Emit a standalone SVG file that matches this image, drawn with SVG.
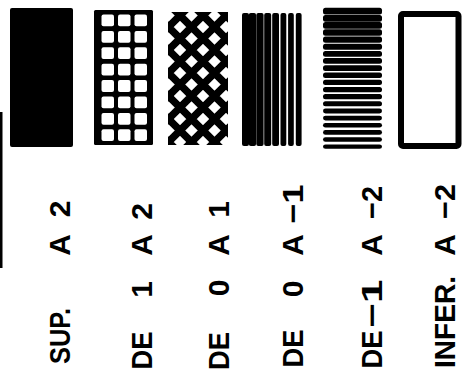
<svg xmlns="http://www.w3.org/2000/svg" width="462" height="373" viewBox="0 0 462 373">
<style>
.lbl{font-family:"Liberation Sans",Arial,sans-serif;font-weight:bold;font-size:30px;fill:#000;text-anchor:middle}
.ink{fill:#000}
.hole{fill:#fff}
</style>
<defs>
<clipPath id="cross-clip"><rect x="168" y="12" width="60" height="133"/></clipPath>
</defs>
<rect width="462" height="373" fill="#fff"/>
<g id="frame-edge"><rect x="0" y="112" width="2.5" height="156" class="ink"/></g>

<g id="sup-a-2">
<rect x="10" y="8" width="63" height="139" rx="2" class="ink"/>
<text class="lbl" transform="translate(70,336) rotate(-90)" textLength="56" lengthAdjust="spacingAndGlyphs">SUP.</text>
<text class="lbl" transform="translate(70,245) rotate(-90)">A</text>
<text class="lbl" transform="translate(70,209) rotate(-90)">2</text>
</g>

<g id="de-1-a-2">
<rect x="94" y="10" width="59" height="135" rx="1.5" class="ink"/>
<g class="hole">
<rect x="101.5" y="14.5" width="12.5" height="11.8" rx="2"/><rect x="118" y="14.5" width="12.5" height="11.8" rx="2"/><rect x="134.5" y="14.5" width="12.5" height="11.8" rx="2"/>
<rect x="101.5" y="30.9" width="12.5" height="11.8" rx="2"/><rect x="118" y="30.9" width="12.5" height="11.8" rx="2"/><rect x="134.5" y="30.9" width="12.5" height="11.8" rx="2"/>
<rect x="101.5" y="47.3" width="12.5" height="11.8" rx="2"/><rect x="118" y="47.3" width="12.5" height="11.8" rx="2"/><rect x="134.5" y="47.3" width="12.5" height="11.8" rx="2"/>
<rect x="101.5" y="63.7" width="12.5" height="11.8" rx="2"/><rect x="118" y="63.7" width="12.5" height="11.8" rx="2"/><rect x="134.5" y="63.7" width="12.5" height="11.8" rx="2"/>
<rect x="101.5" y="80.1" width="12.5" height="11.8" rx="2"/><rect x="118" y="80.1" width="12.5" height="11.8" rx="2"/><rect x="134.5" y="80.1" width="12.5" height="11.8" rx="2"/>
<rect x="101.5" y="96.5" width="12.5" height="11.8" rx="2"/><rect x="118" y="96.5" width="12.5" height="11.8" rx="2"/><rect x="134.5" y="96.5" width="12.5" height="11.8" rx="2"/>
<rect x="101.5" y="112.9" width="12.5" height="11.8" rx="2"/><rect x="118" y="112.9" width="12.5" height="11.8" rx="2"/><rect x="134.5" y="112.9" width="12.5" height="11.8" rx="2"/>
<rect x="101.5" y="129.3" width="12.5" height="11.8" rx="2"/><rect x="118" y="129.3" width="12.5" height="11.8" rx="2"/><rect x="134.5" y="129.3" width="12.5" height="11.8" rx="2"/>
</g>
<text class="lbl" transform="translate(152,350.5) rotate(-90)" textLength="38" lengthAdjust="spacingAndGlyphs">DE</text>
<text class="lbl" transform="translate(152,289.5) rotate(-90)">1</text>
<text class="lbl" transform="translate(152,245) rotate(-90)">A</text>
<text class="lbl" transform="translate(152,211.5) rotate(-90)">2</text>
</g>

<g id="de-0-a-1">
<path clip-path="url(#cross-clip)" fill="none" stroke="#000" stroke-width="7.5" d="M172.5 0L12.5 160M195.5 0L35.5 160M218.5 0L58.5 160M241.5 0L81.5 160M264.5 0L104.5 160M287.5 0L127.5 160M310.5 0L150.5 160M333.5 0L173.5 160M356.5 0L196.5 160M379.5 0L219.5 160M402.5 0L242.5 160M3.5 0L163.5 160M26.5 0L186.5 160M49.5 0L209.5 160M72.5 0L232.5 160M95.5 0L255.5 160M118.5 0L278.5 160M141.5 0L301.5 160M164.5 0L324.5 160M187.5 0L347.5 160M210.5 0L370.5 160M233.5 0L393.5 160"/>
<text class="lbl" transform="translate(229,351) rotate(-90)" textLength="38" lengthAdjust="spacingAndGlyphs">DE</text>
<text class="lbl" transform="translate(229,288) rotate(-90)">0</text>
<text class="lbl" transform="translate(229,245) rotate(-90)">A</text>
<text class="lbl" transform="translate(229,209.5) rotate(-90)">1</text>
</g>

<g id="de-0-a-m1">
<g class="ink">
<rect x="242" y="13" width="7" height="133" rx="2"/>
<rect x="248.8" y="13" width="7.3" height="133" rx="2"/>
<rect x="256.3" y="13" width="7.3" height="133" rx="2"/>
<rect x="264.2" y="13" width="7" height="133" rx="2"/>
<rect x="272.2" y="13" width="6.8" height="133" rx="2"/>
<rect x="280.5" y="13" width="5.8" height="133" rx="2"/>
<rect x="288.1" y="13" width="5.7" height="133" rx="2"/>
<rect x="295.8" y="13" width="5.8" height="133" rx="2"/>
</g>
<text class="lbl" transform="translate(303,348.5) rotate(-90)" textLength="38" lengthAdjust="spacingAndGlyphs">DE</text>
<text class="lbl" transform="translate(303,289) rotate(-90)">0</text>
<text class="lbl" transform="translate(303,245) rotate(-90)">A</text>
<text class="lbl" transform="translate(303,204) rotate(-90)" textLength="39" lengthAdjust="spacingAndGlyphs">−1</text>
</g>

<g id="de-m1-a-m2">
<g class="ink">
<rect x="323" y="7.7" width="59" height="6.9" rx="2.5"/>
<rect x="323" y="14.9" width="59" height="6.8" rx="2.5"/>
<rect x="323" y="22.1" width="59" height="6.6" rx="2.5"/>
<rect x="323" y="29.3" width="59" height="6.5" rx="2.5"/>
<rect x="323" y="36.5" width="59" height="6.3" rx="2.5"/>
<rect x="323" y="43.7" width="59" height="6.1" rx="2.5"/>
<rect x="323" y="50.9" width="59" height="5.9" rx="2.5"/>
<rect x="323" y="58.1" width="59" height="5.7" rx="2.5"/>
<rect x="323" y="65.3" width="59" height="5.6" rx="2.5"/>
<rect x="323" y="72.5" width="59" height="5.5" rx="2.5"/>
<rect x="323" y="79.7" width="59" height="5.4" rx="2.5"/>
<rect x="323" y="86.9" width="59" height="5.3" rx="2.5"/>
<rect x="323" y="94.1" width="59" height="5.1" rx="2.5"/>
<rect x="323" y="101.3" width="59" height="5" rx="2.5"/>
<rect x="323" y="108.5" width="59" height="4.9" rx="2.5"/>
<rect x="323" y="115.7" width="59" height="4.8" rx="2.5"/>
<rect x="323" y="122.9" width="59" height="4.7" rx="2.5"/>
<rect x="323" y="130.1" width="59" height="4.6" rx="2.5"/>
<rect x="323" y="137.3" width="59" height="4.5" rx="2.5"/>
<rect x="323" y="144.5" width="59" height="4.3" rx="2.5"/>
</g>
<text class="lbl" transform="translate(382,349.5) rotate(-90)" textLength="38" lengthAdjust="spacingAndGlyphs">DE</text>
<text class="lbl" transform="translate(382,303.5) rotate(-90)" textLength="48" lengthAdjust="spacingAndGlyphs">−1</text>
<text class="lbl" transform="translate(382,245) rotate(-90)">A</text>
<text class="lbl" transform="translate(382,202.5) rotate(-90)" textLength="33" lengthAdjust="spacingAndGlyphs">−2</text>
</g>

<g id="infer-a-m2">
<rect x="401" y="14" width="57.5" height="132" rx="2" fill="none" stroke="#000" stroke-width="6"/>
<text class="lbl" transform="translate(455,322) rotate(-90)" textLength="92" lengthAdjust="spacingAndGlyphs">INFER.</text>
<text class="lbl" transform="translate(455,245) rotate(-90)">A</text>
<text class="lbl" transform="translate(455,201.5) rotate(-90)" textLength="35" lengthAdjust="spacingAndGlyphs">−2</text>
</g>
</svg>
